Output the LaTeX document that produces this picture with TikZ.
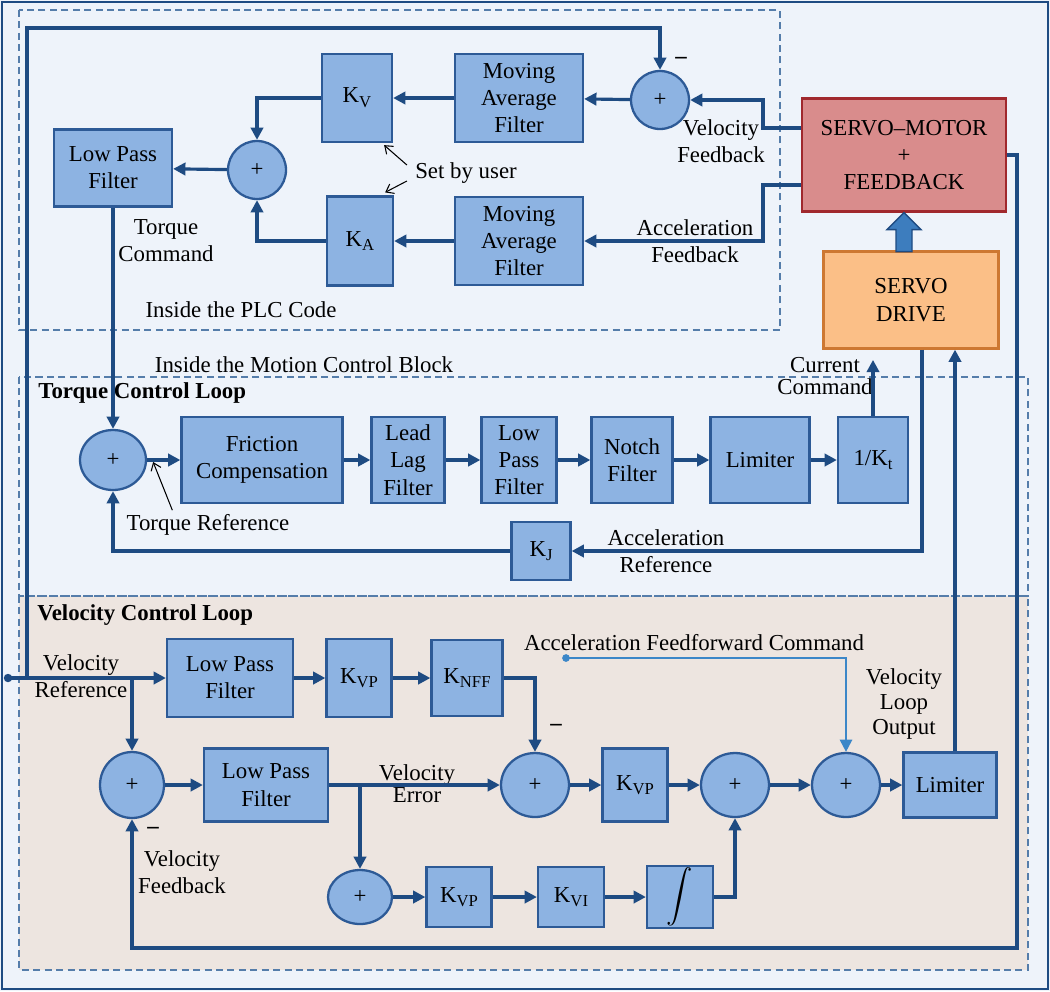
\documentclass[tikz,border=0pt]{standalone}
\usepackage{fontspec}
\usepackage{graphicx}
\setmainfont{Liberation Serif}
\usetikzlibrary{arrows.meta,calc,shapes.geometric}

\definecolor{bgblue}{RGB}{238,243,250}
\definecolor{bgbeige}{RGB}{237,229,224}
\definecolor{blkfill}{RGB}{141,179,226}
\definecolor{blkline}{RGB}{45,90,150}
\definecolor{sigline}{RGB}{30,75,130}
\definecolor{dashline}{RGB}{85,125,170}
\definecolor{motorfill}{RGB}{217,140,140}
\definecolor{motorline}{RGB}{160,40,45}
\definecolor{drivefill}{RGB}{251,191,135}
\definecolor{driveline}{RGB}{205,120,50}
\definecolor{ffline}{RGB}{60,135,200}
\definecolor{thickblue}{RGB}{61,125,190}

% gain with lowered subscript
\newcommand{\gain}[1]{K\raisebox{-0.45ex}{\fontsize{9.5}{10}\selectfont #1}}

\begin{document}
\begin{tikzpicture}[x=0.02cm, y=-0.02cm,
    font=\fontsize{13}{15.5}\selectfont,
    blk/.style={draw=blkline, fill=blkfill, line width=1.3pt, align=center, inner sep=1pt},
    sum/.style={ellipse, draw=blkline, fill=blkfill, line width=1.3pt, inner sep=0pt},
    sig/.style={draw=sigline, line width=1.8pt, -{Triangle[length=7pt,width=7pt]}},
    ffsig/.style={draw=ffline, line width=1.3pt, -{Triangle[length=7pt,width=7pt]}},
    note/.style={draw=black, line width=0.6pt, -{Straight Barb[length=4pt,width=6pt]}},
    region/.style={draw=dashline, line width=0.8pt, dash pattern=on 4pt off 2.5pt},
    lbl/.style={align=center, inner sep=0pt}]
    \useasboundingbox (0,0) rectangle (1050,991);

    % background and regions
    \fill[bgblue] (0,0) rectangle (1050,991);
    \draw[sigline, line width=1.2pt] (2,2) rectangle (1048,989);
    \fill[bgbeige] (19,596) rectangle (1028,970);
    \draw[region] (19,10) rectangle (780,330);
    \draw[region] (19,377) rectangle (1028,596);
    \draw[region] (19,596) rectangle (1028,970);

    % PLC code
    \node[sum, minimum width=1.16cm, minimum height=1.16cm] (plcsum) at (660,100) {+};
    \node[blk, minimum width=2.56cm, minimum height=1.76cm] (maftop) at (519,98) {Moving\\Average\\Filter};
    \node[blk, minimum width=1.40cm, minimum height=1.76cm] (kv) at (357,98) {\gain{V}};
    \node[sum, minimum width=1.16cm, minimum height=1.16cm] (plcadd) at (257,170) {+};
    \node[blk, minimum width=2.36cm, minimum height=1.54cm] (plclpf) at (113,168) {Low Pass\\Filter};
    \node[blk, minimum width=1.32cm, minimum height=1.78cm] (ka) at (360,241) {\gain{A}};
    \node[blk, minimum width=2.56cm, minimum height=1.76cm] (mafbot) at (519,241) {Moving\\Average\\Filter};
    \node[lbl] (setby) at (466,173) {Set by user};
    \node[lbl] (torqcmd) at (166,241) {Torque\\Command};
    \node[lbl] (plclbl) at (241,310) {Inside the PLC Code};
    \node[lbl] (minus1) at (681,60) {\bfseries --};
    \node[lbl] (velfb) at (721,141) {Velocity\\Feedback};
    \node[lbl] (accfb) at (695,241) {Acceleration\\Feedback};

    % motor and drive
    \node[draw=motorline, fill=motorfill, line width=1.3pt, align=center,
          minimum width=4.08cm, minimum height=2.26cm] (motor) at (904,155) {SERVO--MOTOR\\+\\FEEDBACK};
    \node[draw=driveline, fill=drivefill, line width=1.3pt, align=center,
          minimum width=3.50cm, minimum height=1.94cm] (drive) at (911,300) {SERVO\\DRIVE};
    \filldraw[draw=sigline, fill=thickblue, line width=0.8pt] (motor.south) -- ++(17,17) -- ++(-9,0)
        -- ++(0,22) -- ++(-16,0) -- ++(0,-22) -- ++(-9,0) -- cycle;

    % torque control loop
    \node[lbl] (mcblbl) at (304,365) {Inside the Motion Control Block};
    \node[lbl, anchor=west, font=\fontsize{13}{15.5}\selectfont\bfseries] (tlooplbl) at (38,393) {Torque Control Loop};
    \node[sum, minimum width=1.32cm, minimum height=1.20cm] (tsum) at (113,460) {+};
    \node[blk, minimum width=3.22cm, minimum height=1.72cm] (fric) at (262,460) {Friction\\Compensation};
    \node[blk, minimum width=1.46cm, minimum height=1.72cm] (lead) at (408,460) {Lead\\Lag\\Filter};
    \node[blk, minimum width=1.50cm, minimum height=1.72cm] (tlpf) at (519,460) {Low\\Pass\\Filter};
    \node[blk, minimum width=1.62cm, minimum height=1.72cm] (notch) at (632,460) {Notch\\Filter};
    \node[blk, minimum width=1.98cm, minimum height=1.72cm] (tlim) at (760,460) {Limiter};
    \node[blk, minimum width=1.40cm, minimum height=1.72cm] (invkt) at (873,460) {1/\gain{t}};
    \node[blk, minimum width=1.18cm, minimum height=1.16cm] (kj) at (541,551) {\gain{J}};
    \node[lbl] (treflbl) at (208,525) {Torque Reference};
    \node[lbl] (acclbl) at (666,551) {Acceleration\\Reference};
    \node[lbl, font=\fontsize{13}{13}\selectfont] (curlbl) at (825,376) {Current\\Command};

    % velocity control loop
    \node[lbl, anchor=west, font=\fontsize{13}{15.5}\selectfont\bfseries] (vlooplbl) at (37,615) {Velocity Control Loop};
    \coordinate (vref) at (8,678);
    \coordinate (vrefjoin) at (27,678);
    \coordinate (vbranch) at (132,678);
    \node[lbl] (vreflbl) at (81,676) {Velocity\\Reference};
    \node[blk, minimum width=2.52cm, minimum height=1.56cm] (vlpf1) at (230,678) {Low Pass\\Filter};
    \node[blk, minimum width=1.30cm, minimum height=1.56cm] (kvp1) at (359,678) {\gain{VP}};
    \node[blk, minimum width=1.42cm, minimum height=1.52cm] (knff) at (467,678) {\gain{NFF}};
    \node[sum, minimum width=1.28cm, minimum height=1.32cm] (vsum1) at (132,785) {+};
    \node[blk, minimum width=2.48cm, minimum height=1.46cm] (vlpf2) at (266,785) {Low Pass\\Filter};
    \node[sum, minimum width=1.36cm, minimum height=1.28cm] (vsum2) at (535,785) {+};
    \node[blk, minimum width=1.30cm, minimum height=1.46cm] (kvp2) at (635,785) {\gain{VP}};
    \node[sum, minimum width=1.36cm, minimum height=1.28cm] (vsum4) at (735,785) {+};
    \node[sum, minimum width=1.36cm, minimum height=1.28cm] (vsum5) at (846,785) {+};
    \node[blk, minimum width=1.86cm, minimum height=1.30cm] (vlim) at (950,785) {Limiter};
    \node[sum, minimum width=1.28cm, minimum height=1.08cm] (vsum3) at (360,897) {+};
    \node[blk, minimum width=1.30cm, minimum height=1.20cm] (kvp3) at (459,897) {\gain{VP}};
    \node[blk, minimum width=1.32cm, minimum height=1.20cm] (kvi) at (571,897) {\gain{VI}};
    \node[blk, minimum width=1.32cm, minimum height=1.22cm] (integ) at (680,897) {\scalebox{1.5}{\boldmath$\displaystyle\int$}};
    \coordinate (verr) at (360,785);
    \coordinate (ffstart) at (566,658);
    \node[lbl, font=\fontsize{13}{12.5}\selectfont] (verrlbl) at (417,784) {Velocity\\Error};
    \node[lbl] (vfblbl) at (182,872) {Velocity\\Feedback};
    \node[lbl] (minus2) at (153,830) {\bfseries --};
    \node[lbl] (minus3) at (556,727) {\bfseries --};
    \node[lbl] (fflbl) at (694,643) {Acceleration Feedforward Command};
    \node[lbl, font=\fontsize{13}{14}\selectfont] (vloutlbl) at (904,704) {Velocity\\Loop\\Output};

    % PLC signals
    \draw[sig] (vrefjoin) -- (27,28) -| (plcsum.north);
    \draw[sig] (plcsum) -- (maftop);
    \draw[sig] (maftop) -- (kv);
    \draw[sig] (kv.west) -| (plcadd.north);
    \draw[sig] (mafbot) -- (ka);
    \draw[sig] (ka.west) -| (plcadd.south);
    \draw[sig] (plcadd) -- (plclpf);
    \draw[sig] (plclpf.south) -- (tsum.north);
    \draw[sig] ($(motor.west)+(0,-27)$) -| (763,100) -- (plcsum.east);
    \draw[sig] ($(motor.west)+(0,30)$) -| (763,241) -- (mafbot.east);
    \draw[note] ($(setby.west)+(-8,-8)$) -- ($(kv.south east)+(-9,2)$);
    \draw[note] ($(setby.west)+(-8,8)$) -- ($(ka.north east)+(-9,-3)$);

    % torque signals
    \draw[sig] (tsum) -- (fric);
    \foreach \a/\b in {fric/lead, lead/tlpf, tlpf/notch, notch/tlim, tlim/invkt}
        \draw[sig] (\a) -- (\b);
    \draw[sig] (invkt.north) -- ++(0,-56);
    \draw[sig] ($(drive.south)+(11,0)$) |- (kj.east);
    \draw[sig] (kj.west) -| (tsum.south);
    \draw[note] ($(treflbl.north west)+(46,-4)$) -- ($(tsum.east)+(6,2)$);

    % velocity signals
    \fill[sigline] (vref) circle (2.4pt);
    \draw[sig] (vref) -- (vlpf1.west);
    \draw[sig] (vbranch) -- (vsum1.north);
    \draw[sig] (vlpf1) -- (kvp1);
    \draw[sig] (kvp1) -- (knff);
    \draw[sig] (knff.east) -| (vsum2.north);
    \draw[sig] (vsum1) -- (vlpf2);
    \draw[sig] (vlpf2) -- (vsum2);
    \draw[sig] (verr) -- (vsum3.north);
    \draw[sig] (vsum2) -- (kvp2);
    \draw[sig] (kvp2) -- (vsum4);
    \draw[sig] (vsum4) -- (vsum5);
    \draw[sig] (vsum5) -- (vlim);
    \draw[sig] (vsum3) -- (kvp3);
    \draw[sig] (kvp3) -- (kvi);
    \draw[sig] (kvi) -- (integ);
    \draw[sig] (integ.east) -| (vsum4.south);
    \fill[ffline] (ffstart) circle (2.2pt);
    \draw[ffsig] (ffstart) -| (vsum5.north);
    \draw[sig] ($(vlim.north)+(5,0)$) -- ($(drive.south)+(44,0)$);
    \draw[sig] (motor.east) -- (1017,155) |- (132,948) -- (vsum1.south);
\end{tikzpicture}
\end{document}
